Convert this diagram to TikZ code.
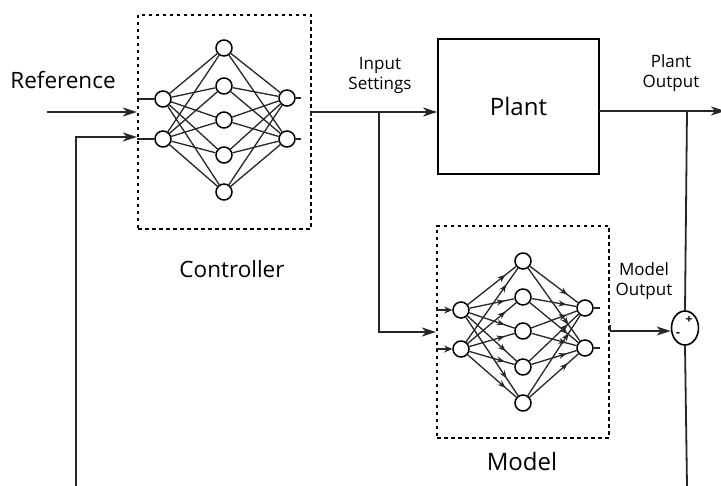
\documentclass[tikz,border=0pt]{standalone}
\usepackage{fontspec}
\setmainfont{Open Sans}
\usetikzlibrary{arrows.meta,decorations.markings,shapes.geometric}
\tikzset{
  wire/.style={line width=1.8pt, black!85},
  arr/.style={wire, -{Stealth[length=14pt,width=9pt,inset=4pt]}},
  neuron/.style={circle, draw, line width=1.5pt, minimum size=16pt, inner sep=0pt, fill=white},
  syn/.style={line width=1.3pt, black!85},
  msyn/.style={syn, postaction={decorate}, decoration={markings, mark=at position 0.78 with {\arrow{Stealth[length=8pt,width=6pt]}}}},
  dbox/.style={draw, line width=2.2pt, dash pattern=on 3.5pt off 3.5pt, inner sep=0pt},
  bigtxt/.style={font=\fontsize{22.5}{24}\selectfont},
  smalltxt/.style={font=\fontsize{17}{19}\selectfont, align=center, inner sep=0pt}
}
\begin{document}
\begin{tikzpicture}[x=1pt,y=-1pt]
\useasboundingbox[fill=white] (0,0) rectangle (721,486);

% ---------- boxes ----------
\node[dbox, minimum width=173pt, minimum height=214pt] (ctrlbox) at (224.5,122) {};
\node[draw, line width=1.8pt, minimum width=161pt, minimum height=135pt, font=\fontsize{24}{26}\selectfont] (plant) at (518.5,106.5) {Plant};
\node[dbox, minimum width=172pt, minimum height=212pt] (modelbox) at (523,332) {};

% ---------- labels ----------
\node[bigtxt] (reflbl) at (63,80) {Reference};
\node[bigtxt] (ctrllbl) at (232,269) {Controller};
\node[font=\fontsize{24}{26}\selectfont] (modellbl) at (522,462) {Model};
\node[smalltxt] (inlbl) at (380,75) {Input\\[1pt]Settings};
\node[smalltxt] (polbl) at (671,73) {Plant\\[1pt]Output};
\node[smalltxt] (molbl) at (644,281) {Model\\[1pt]Output};

% ---------- controller network ----------
\foreach \i/\y in {1/99,2/139} \node[neuron] (ci\i) at (163,\y) {};
\foreach \i/\y in {1/48,2/86,3/120,4/155,5/192} \node[neuron] (ch\i) at (224,\y) {};
\foreach \i/\y in {1/98,2/139} \node[neuron] (co\i) at (287,\y) {};
\foreach \i in {1,2} \foreach \j in {1,...,5} \draw[syn] (ci\i) -- (ch\j);
\foreach \j in {1,...,5} \foreach \k in {1,2} \draw[syn] (ch\j) -- (co\k);
\draw[syn] (ctrlbox.west |- ci1) -- (ci1);
\draw[syn] (ctrlbox.west |- ci2) -- (ci2);
\coordinate (co1s) at (301,98);
\coordinate (co2s) at (301,139);
\draw[syn] (co1) -- (co1s);
\draw[syn] (co2) -- (co2s);

% ---------- model network ----------
\foreach \i/\y in {1/310,2/349} \node[neuron] (mi\i) at (461,\y) {};
\foreach \i/\y in {1/261,2/297,3/331,4/367,5/403} \node[neuron] (mh\i) at (523,\y) {};
\foreach \i/\y in {1/308,2/348} \node[neuron] (mo\i) at (585,\y) {};
\foreach \i in {1,2} \foreach \j in {1,...,5} \draw[msyn] (mi\i) -- (mh\j);
\foreach \j in {1,...,5} \foreach \k in {1,2} \draw[msyn] (mh\j) -- (mo\k);
\draw[syn, -{Stealth[length=8pt,width=7pt]}] (modelbox.west |- mi1) -- (mi1);
\draw[syn, -{Stealth[length=8pt,width=7pt]}] (modelbox.west |- mi2) -- (mi2);
\coordinate (mo1s) at (600,308);
\coordinate (mo2s) at (600,348);
\draw[syn] (mo1) -- (mo1s);
\draw[syn, line width=2pt] (mo2) -- (mo2s);

% ---------- summing junction ----------
\node[ellipse, draw, line width=1.6pt, minimum width=27pt, minimum height=34pt, inner sep=0pt] (sum) at (685,328) {};
\node[font=\fontsize{12}{12}\selectfont\bfseries, inner sep=0pt] (plus) at (689,320) {+};
\node[font=\fontsize{12}{12}\selectfont\bfseries, inner sep=0pt] (minus) at (678,335) {-};

% ---------- connectors ----------
\coordinate (refstart) at (47,112);
\draw[arr] (refstart) -- (ctrlbox.west |- refstart);

\coordinate (fbbot) at (76,486);
\coordinate (fbcorner) at (76,137);
\draw[arr] (fbbot) -- (fbcorner) -- (ctrlbox.west |- fbcorner);

\coordinate (cout) at (311,112);
\coordinate (br1) at (379,112);
\coordinate (br1low) at (379,332);
\draw[wire] (cout) -- ++(0,4);
\draw[arr] (cout) -- (plant.west |- cout);
\draw[arr] (br1) -- (br1low) -- (modelbox.west |- br1low);

\coordinate (pout) at (599,111);
\coordinate (pend) at (725,111);
\coordinate (br2) at (687,111);
\coordinate (sumbot) at (687,486);
\draw[arr] (pout) -- (pend);
\draw[wire] (br2) -- (sum.north);
\draw[wire] (sum.south) -- (sumbot);

\coordinate (mout) at (610,331);
\draw[wire] (mout) -- ++(0,-6);
\draw[arr] (mout) -- (sum.west |- mout);
\end{tikzpicture}
\end{document}
